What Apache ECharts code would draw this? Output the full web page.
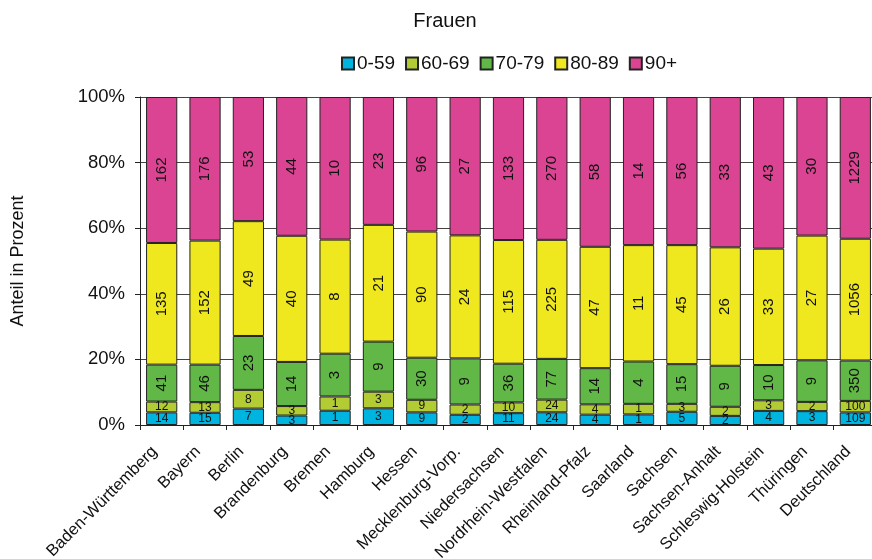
<!DOCTYPE html>
<html>
<head>
<meta charset="utf-8">
<script src="https://cdn.jsdelivr.net/npm/echarts@6/dist/echarts.min.js"></script>
<style>
  html, body { margin: 0; padding: 0; background: #fff; }
  #chart { width: 872px; height: 559px; }
</style>
</head>
<body>
<div id="chart"></div>
<script>
// Bundesländer + Deutschland
const laender = ['Baden-Württemberg', 'Bayern', 'Berlin', 'Brandenburg', 'Bremen', 'Hamburg', 'Hessen',
  'Mecklenburg-Vorp.', 'Niedersachsen', 'Nordrhein-Westfalen', 'Rheinland-Pfalz', 'Saarland', 'Sachsen',
  'Sachsen-Anhalt', 'Schleswig-Holstein', 'Thüringen', 'Deutschland']

// Altersgruppen
const gruppen = ['0-59', '60-69', '70-79', '80-89', '90+']

// Anzahl je Altersgruppe (Frauen)
const alter0_59 = [14, 15, 7, 3, 1, 3, 9, 2, 11, 24, 4, 1, 5, 2, 4, 3, 109]
const alter60_69 = [12, 13, 8, 3, 1, 3, 9, 2, 10, 24, 4, 1, 3, 2, 3, 2, 100]
const alter70_79 = [41, 46, 23, 14, 3, 9, 30, 9, 36, 77, 14, 4, 15, 9, 10, 9, 350]
const alter80_89 = [135, 152, 49, 40, 8, 21, 90, 24, 115, 225, 47, 11, 45, 26, 33, 27, 1056]
const alter90 = [162, 176, 53, 44, 10, 23, 96, 27, 133, 270, 58, 14, 56, 33, 43, 30, 1229]

const yTicks = ['0%', '20%', '40%', '60%', '80%', '100%']

const farben = ['#00b4e0', '#b4cc34', '#62b846', '#efe81f', '#da4492']

const counts = [alter0_59, alter60_69, alter70_79, alter80_89, alter90]

// Summe je Land -> Anteil in Prozent
const summen = laender.map((_, i) => counts.reduce((s, arr) => s + arr[i], 0))

const FONT = '"Liberation Sans", Arial, sans-serif'

const series = counts.map((arr, k) => ({
  name: gruppen[k],
  type: 'bar',
  stack: 'gesamt',
  barCategoryGap: '28%',
  data: arr.map((v, i) => v / summen[i] * 100),
  itemStyle: { color: farben[k], borderColor: '#222', borderWidth: 1 },
  label: {
    show: true,
    position: 'inside',
    rotate: k >= 2 ? 90 : 0,
    color: '#111',
    fontFamily: FONT,
    fontSize: k >= 2 ? 15 : 12,
    formatter: p => String(arr[p.dataIndex])
  },
  emphasis: { disabled: true }
}))

const chart = echarts.init(document.getElementById('chart'))
chart.setOption({
  animation: false,
  title: {
    text: 'Frauen',
    left: 440,
    top: 6,
    textAlign: 'center',
    textStyle: { fontFamily: FONT, fontWeight: 'normal', fontSize: 20, color: '#111' }
  },
  legend: {
    data: gruppen,
    left: 336,
    top: 49,
    itemWidth: 12,
    itemHeight: 12,
    itemGap: 10,
    icon: 'rect',
    textStyle: { fontFamily: FONT, fontSize: 19, color: '#111', padding: [0, 0, 0, -2] }
  },
  grid: { left: 140, top: 97, width: 737, bottom: 134, containLabel: false, outerBoundsMode: 'none' },
  xAxis: {
    type: 'category',
    data: laender,
    axisLine: { lineStyle: { color: '#222' } },
    axisTick: { show: true, length: 5, lineStyle: { color: '#222' } },
    axisLabel: {
      interval: 0, rotate: 45, margin: 17, padding: [0, 10, 0, 0],
      fontFamily: FONT, fontSize: 16.5, color: '#111'
    }
  },
  yAxis: {
    type: 'value',
    min: 0,
    max: 100,
    interval: 20,
    name: 'Anteil in Prozent',
    nameLocation: 'middle',
    nameGap: 113,
    nameTextStyle: { fontFamily: FONT, fontSize: 18, color: '#111' },
    axisLine: { show: true, lineStyle: { color: '#222' } },
    axisTick: { show: true, length: 5, lineStyle: { color: '#222' } },
    axisLabel: {
      fontFamily: FONT, fontSize: 18.5, color: '#111', margin: 15,
      formatter: v => yTicks[Math.round(v / 20)]
    },
    splitLine: { show: true, lineStyle: { color: '#444', width: 1 } }
  },
  series: series
})
</script>
</body>
</html>
